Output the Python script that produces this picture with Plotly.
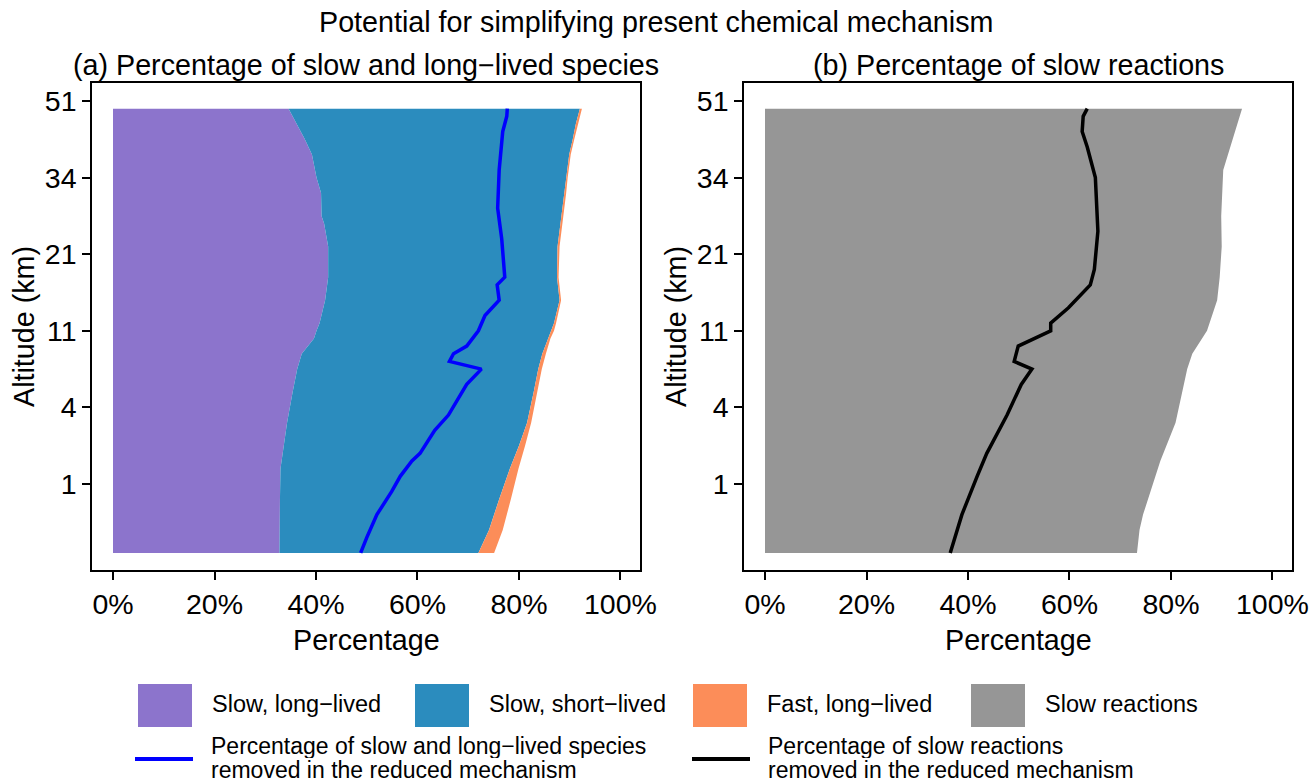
import plotly.graph_objects as go

W, H = 1312, 782
FONT = "Liberation Sans, Arial, Helvetica, sans-serif"

# model levels (y) and altitude tick labels
level_ticks = [10, 20, 30, 40, 50, 60]
altitude_labels = ["1", "4", "11", "21", "34", "51"]
pct_ticks = [0, 20, 40, 60, 80, 100]
pct_labels = ["0%", "20%", "40%", "60%", "80%", "100%"]

# (a) species shares per level, in %
levels_species = [1, 4, 8, 12, 15, 18, 22, 25, 27, 29, 30, 31, 34, 37, 41, 44, 45, 48, 50, 53, 55, 57, 59]
slow_long = [32.8, 32.8, 32.9, 33.0, 33.6, 34.3, 35.4, 36.3, 37.2, 39.6, 40.1, 40.7, 41.8,
             42.4, 42.4, 41.6, 41.1, 41.0, 40.1, 39.2, 37.8, 36.2, 34.6]
slow_short = [39.2, 41.3, 43.2, 45.2, 46.4, 47.3, 47.5, 47.5, 47.4, 46.1, 46.3, 46.2, 46.2,
              45.1, 45.2, 46.6, 47.3, 48.0, 49.2, 50.7, 52.8, 55.0, 57.4]
fast_long = [3.1, 2.7, 2.3, 1.7, 1.2, 0.8, 0.7, 0.7, 0.7, 0.5, 0.5, 0.4, 0.3,
             0.3, 0.4, 0.4, 0.4, 0.3, 0.3, 0.3, 0.3, 0.4, 0.4]

# (a) slow and long-lived species removed in the reduced mechanism
levels_removed_sp = [1, 3, 6, 9, 11, 13, 14, 17, 19, 23, 25, 26, 27, 28, 30, 32, 34, 36, 37, 42, 46, 51, 56, 58, 59]
removed_sp = [48.8, 50.0, 52.0, 54.9, 56.6, 58.9, 60.5, 63.4, 66.1, 69.7, 72.6, 66.3, 67.1,
              69.7, 72.0, 73.3, 76.1, 75.7, 77.2, 76.6, 75.8, 76.1, 76.8, 77.6, 77.7]

# (b) slow reactions
levels_rxn = [1, 4, 6, 13, 18, 21, 25, 27, 30, 34, 37, 41, 45, 51, 54, 57, 59]
slow_rxn = [73.3, 73.8, 74.5, 77.9, 80.9, 81.9, 83.2, 84.2, 87.1, 89.1, 89.6, 90.0, 89.9,
            90.3, 91.7, 93.0, 94.0]

levels_removed_rxn = [1, 3, 6, 11, 14, 19, 23, 25, 26, 28, 29, 30, 31, 33, 36, 38, 43, 50, 54, 56, 58, 59]
removed_rxn = [36.5, 37.4, 38.8, 41.8, 43.7, 47.7, 50.5, 52.6, 49.1, 49.9, 53.0, 56.3, 56.3,
               59.8, 64.1, 64.9, 65.6, 65.1, 63.5, 62.5, 62.7, 63.5]

PURPLE = "#8c74cc"
BLUE = "#2b8cbe"
ORANGE = "#fc8d59"
GREY = "#969696"


def px(x):
    return x / W


def py(y):
    return 1 - y / H


fig = go.Figure()

for vals, col in [(slow_long, PURPLE), (slow_short, BLUE), (fast_long, ORANGE)]:
    fig.add_trace(go.Scatter(x=vals, y=levels_species, stackgroup="species", orientation="h",
                             mode="lines", line=dict(width=0), fillcolor=col,
                             xaxis="x", yaxis="y", showlegend=False))
fig.add_trace(go.Scatter(x=removed_sp, y=levels_removed_sp, mode="lines",
                         line=dict(color="#0000ff", width=3.5), xaxis="x", yaxis="y",
                         showlegend=False))

fig.add_trace(go.Scatter(x=slow_rxn, y=levels_rxn, fill="tozerox", mode="lines",
                         line=dict(width=0), fillcolor=GREY, xaxis="x2", yaxis="y2",
                         showlegend=False))
fig.add_trace(go.Scatter(x=removed_rxn, y=levels_removed_rxn, mode="lines",
                         line=dict(color="black", width=3.5), xaxis="x2", yaxis="y2",
                         showlegend=False))

ax_common = dict(showgrid=False, zeroline=False, showline=True, mirror=True,
                 linecolor="black", linewidth=1.5, ticks="outside", ticklen=8,
                 tickwidth=1.5, tickcolor="black", automargin=False,
                 tickfont=dict(size=28.5, color="black", family=FONT))
xax = dict(ax_common, range=[-4.14, 103.85], tickvals=pct_ticks, ticktext=pct_labels,
           ticklabelstandoff=0)
yax = dict(ax_common, range=[-1.23, 62.35], tickvals=level_ticks, ticktext=altitude_labels,
           ticklabelstandoff=0)

y_dom = [py(570), py(83)]
fig.update_layout(
    width=W, height=H,
    margin=dict(l=0, r=0, t=0, b=0, autoexpand=False),
    paper_bgcolor="white", plot_bgcolor="white",
    font=dict(family=FONT, color="black"),
    xaxis=dict(xax, domain=[px(92), px(640)], anchor="y"),
    yaxis=dict(yax, domain=y_dom, anchor="x"),
    xaxis2=dict(xax, domain=[px(744), px(1292)], anchor="y2"),
    yaxis2=dict(yax, domain=y_dom, anchor="x2"),
)

ann = []


def text(x, y, s, size=28.7, xanchor="center", angle=0, height=None):
    ann.append(dict(x=px(x), y=py(y), xref="paper", yref="paper", text=s, showarrow=False,
                    xanchor=xanchor, yanchor="middle", textangle=angle, height=height,
                    font=dict(size=size, family=FONT, color="black")))


text(656, 22, "Potential for simplifying present chemical mechanism")
text(366, 65, "(a) Percentage of slow and long\u2212lived species")
text(1018, 65, "(b) Percentage of slow reactions")
text(366, 640, "Percentage")
text(1018, 640, "Percentage")
text(24, 327, "Altitude (km)", angle=-90)
text(676, 327, "Altitude (km)", angle=-90)

# legend, drawn by hand to keep the two-row layout
shapes = []
boxes = [(138, PURPLE, "Slow, long\u2212lived"), (415, BLUE, "Slow, short\u2212lived"),
         (693, ORANGE, "Fast, long\u2212lived"), (971, GREY, "Slow reactions")]
for x0, col, lab in boxes:
    shapes.append(dict(type="rect", xref="paper", yref="paper", x0=px(x0), x1=px(x0 + 54),
                       y0=py(727), y1=py(684), fillcolor=col, line=dict(width=0)))
    text(x0 + 72, 704, lab, size=23.5, xanchor="left")

lines = [(135, "#0000ff", "Percentage of slow and long\u2212lived species"),
         (692, "black", "Percentage of slow reactions")]
for x0, col, lab in lines:
    shapes.append(dict(type="line", xref="paper", yref="paper", x0=px(x0), x1=px(x0 + 58),
                       y0=py(759), y1=py(759), line=dict(color=col, width=4)))
    text(x0 + 74, 746, lab, size=23, xanchor="left", height=24)
    text(x0 + 74, 770, "removed in the reduced mechanism", size=23, xanchor="left", height=24)

fig.update_layout(annotations=ann, shapes=shapes)

# drop the page's default body margin so the figure sits at the window's corner
fig.write_html("out.html", config={"responsive": False, "displayModeBar": False},
               post_script="document.body.style.margin='0';"
                           "document.body.style.overflow='hidden';")
